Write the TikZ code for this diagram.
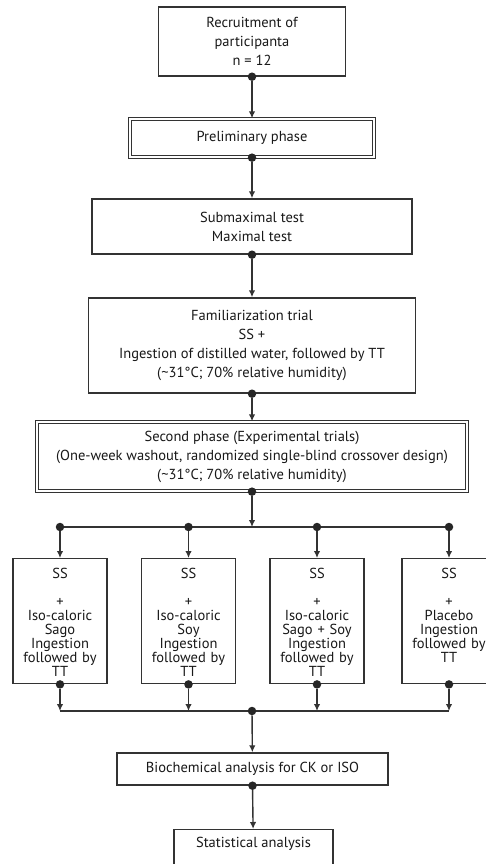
\documentclass[tikz,border=0pt]{standalone}
\usepackage{fontspec}
\setmainfont{PT Sans}
\usetikzlibrary{arrows.meta,positioning}

\tikzset{
  box/.style={draw=black!80, line width=1.4pt, fill=white, align=center, inner sep=4pt,
    text=black!90, font=\fontsize{14.5}{19}\selectfont},
  dblbox/.style={box, double=white, double distance=1.8pt, line width=1.3pt},
  trial/.style={box, anchor=north, text width=88pt, inner xsep=3pt, inner ysep=9.5pt,
    text height=10pt, text depth=96pt, font=\fontsize{14.5}{14}\selectfont},
  dot/.style={circle, fill=black!85, inner sep=0pt, minimum size=8.5pt},
  wire/.style={draw=black!80, line width=1.4pt},
  link/.style={wire, -{Latex[length=7pt,width=6.5pt]}},
}

\begin{document}
\begin{tikzpicture}[x=1pt, y=-1pt]
\useasboundingbox (0,0) rectangle (486,864);
\clip (0,0) rectangle (486,864);
%%%%% Preliminary part %%%%%
\node[box, minimum width=187pt, minimum height=69pt] (recruit) at (252,41.5)
  {Recruitment of\\participanta\\n = 12};
\node[dblbox, minimum width=244pt, minimum height=38pt] (prelim) at (252,138)
  {Preliminary phase};
\node[box, minimum width=320pt, minimum height=55pt] (tests) at (252,226.5)
  {Submaximal test\\Maximal test};
\node[box, minimum width=327pt, minimum height=95pt] (famil) at (252,345.5)
  {Familiarization trial\\SS +\\Ingestion of distilled water, followed by TT\\(\textasciitilde31°C; 70\% relative humidity)};
\node[dblbox, minimum width=430pt, minimum height=69pt] (second) at (252,456.5)
  {Second phase (Experimental trials)\\(One-week washout, randomized single-blind crossover design)\\(\textasciitilde31°C; 70\% relative humidity)};

\foreach \a/\b in {recruit/prelim, prelim/tests, tests/famil, famil/second}{
  \node[dot] (d-\a) at (\a.south) {};
  \draw[link] (d-\a) -- (\b);
}

%%%%% Trials %%%%%
\node[trial] (sago) at (60,558) {SS\\[14pt]+\\Iso-caloric\\Sago\\Ingestion\\followed by\\TT};
\node[trial] (soy) at (188.5,558) {SS\\[14pt]+\\Iso-caloric\\Soy\\Ingestion\\followed by\\TT};
\node[trial] (mix) at (317,558) {SS\\[14pt]+\\Iso-caloric\\Sago + Soy\\Ingestion\\followed by\\TT};
\node[trial] (placebo) at (449,558) {SS\\[14pt]+\\Placebo\\Ingestion\\followed by\\TT};

\coordinate (split) at (252,527);
\coordinate (merge) at (252,711);
\node[dot] (d-second) at (second.south) {};
\draw[link] (d-second) -- (split);
\draw[wire] (sago |- split) -- (placebo |- split);
\draw[wire] (sago |- merge) -- (placebo |- merge);
\foreach \t in {sago, soy, mix, placebo}{
  \node[dot] (s-\t) at (\t |- split) {};
  \draw[link] (s-\t) -- (\t);
  \node[dot] (e-\t) at (\t.south) {};
  \draw[link] (e-\t) -- (\t |- merge);
}

%%%%% Analysis %%%%%
\node[box, minimum width=271pt, minimum height=32pt] (bio) at (252.5,769)
  {Biochemical analysis for CK or ISO};
\node[box, anchor=north, minimum width=159pt, inner ysep=7.5pt, text height=10pt, text depth=30pt]
  (stat) at (253.5,829) {Statistical analysis};
\node[dot] (d-merge) at (merge) {};
\draw[link] (d-merge) -- (bio);
\node[dot] (d-bio) at (bio.south) {};
\draw[link] (d-bio) -- (stat);
\end{tikzpicture}
\end{document}
